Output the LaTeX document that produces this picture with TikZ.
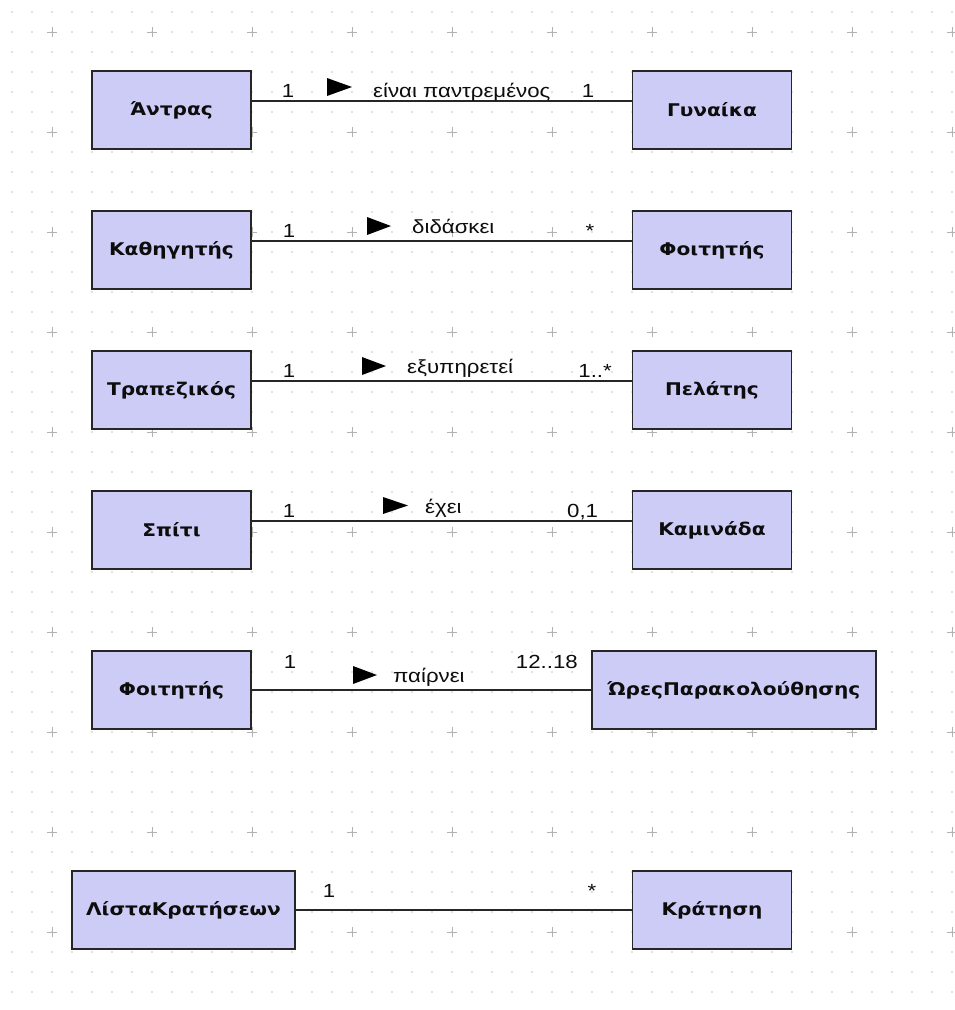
\documentclass[tikz,border=0pt]{standalone}
\usepackage{fontspec}
\setmainfont{DejaVu Sans}
\newfontfamily\boxfont[FakeStretch=1.15]{DejaVu Sans}
\newfontfamily\lblfont[FakeStretch=1.17]{Liberation Sans}
\begin{document}
\begin{tikzpicture}[x=1pt,y=-1pt,
  cls/.style={draw=black!85, line width=1.6pt, fill=boxfill, inner sep=0pt,
    font=\boxfont\bfseries\fontsize{17.5}{19}\selectfont, text=black!95},
  std/.style={cls, minimum width=159pt, minimum height=78pt},
  assoc/.style={draw=black!85, line width=1.5pt},
  lbl/.style={inner sep=0pt, anchor=base west, font=\lblfont\fontsize{19}{21}\selectfont, text=black!95},
  mult/.style={lbl},
  dirtri/.style={fill=black}]
\definecolor{boxfill}{RGB}{204,204,246}
\definecolor{griddot}{RGB}{196,196,196}
\definecolor{gridplus}{RGB}{178,178,178}
\useasboundingbox (0,0) rectangle (954,1010);
\fill[white] (0,0) rectangle (954,1010);
% background grid: dots every 20 units, crosses every 100
\foreach \gx in {12,32,...,952}
  \foreach \gy in {12,32,...,1002}
    \fill[griddot] (\gx,\gy) circle (0.9pt);
\foreach \gx in {52,152,...,952}
  \foreach \gy in {32,132,...,932}
    \draw[gridplus, line width=0.8pt] (\gx-5,\gy) -- (\gx+5,\gy) (\gx,\gy-5) -- (\gx,\gy+5);

% classes
\node[std] (antras)   at (171.5,110) {Άντρας};
\node[std] (gynaika)  at (712,110)   {Γυναίκα};
\node[std] (kathig)   at (171.5,250) {Καθηγητής};
\node[std] (foit1)    at (712,250)   {Φοιτητής};
\node[std] (trapez)   at (171.5,390) {Τραπεζικός};
\node[std] (pelatis)  at (712,390)   {Πελάτης};
\node[std] (spiti)    at (171.5,530) {Σπίτι};
\node[std] (kaminada) at (712,530)   {Καμινάδα};
\node[std] (foit2)    at (171.5,690) {Φοιτητής};
\node[cls, minimum width=284pt, minimum height=78pt] (ores) at (734,690) {ΏρεςΠαρακολούθησης};
\node[cls, minimum width=223pt, minimum height=78pt] (lista) at (183.5,910) {ΛίσταΚρατήσεων};
\node[std] (kratisi)  at (712,910)   {Κράτηση};

% associations
\draw[assoc] ([yshift=9pt]antras.east) -- ([yshift=9pt]gynaika.west);
\draw[assoc] ([yshift=9pt]kathig.east) -- ([yshift=9pt]foit1.west);
\draw[assoc] ([yshift=9pt]trapez.east) -- ([yshift=9pt]pelatis.west);
\draw[assoc] ([yshift=9pt]spiti.east) -- ([yshift=9pt]kaminada.west);
\draw[assoc] (foit2.east) -- (foit2.east -| ores.west);
\draw[assoc] (lista.east) -- (lista.east -| kratisi.west);

% reading-direction triangles
\fill[dirtri] (327,78) -- (352,87) -- (327,96) -- cycle;
\fill[dirtri] (367,217) -- (391,226) -- (367,235) -- cycle;
\fill[dirtri] (362,357) -- (386,366) -- (362,375) -- cycle;
\fill[dirtri] (383,497) -- (408,505.5) -- (383,514) -- cycle;
\fill[dirtri] (353,666) -- (377,675) -- (353,684) -- cycle;

% association names
\node[lbl] (n1) at (373,97)  {είναι παντρεμένος};
\node[lbl] (n2) at (412,233) {διδάσκει};
\node[lbl] (n3) at (407,373) {εξυπηρετεί};
\node[lbl] (n4) at (425,513) {έχει};
\node[lbl] (n5) at (393,682) {παίρνει};

% multiplicities
\node[mult, anchor=base] (m1a) at (288,97)  {1};
\node[mult, anchor=base] (m1b) at (588,97)  {1};
\node[mult, anchor=base] (m2a) at (289,237) {1};
\node[mult, anchor=base] (m2b) at (590,237) {*};
\node[mult, anchor=base] (m3a) at (289,377) {1};
\node[mult, anchor=base east] (m3b) at (612,377) {1..*};
\node[mult, anchor=base] (m4a) at (289,517) {1};
\node[mult] (m4b) at (567,517) {0,1};
\node[mult, anchor=base] (m5a) at (290,668) {1};
\node[mult, anchor=base east] (m5b) at (578,668) {12..18};
\node[mult, anchor=base] (m6a) at (329,897) {1};
\node[mult, anchor=base] (m6b) at (592,897) {*};
\end{tikzpicture}
\end{document}
